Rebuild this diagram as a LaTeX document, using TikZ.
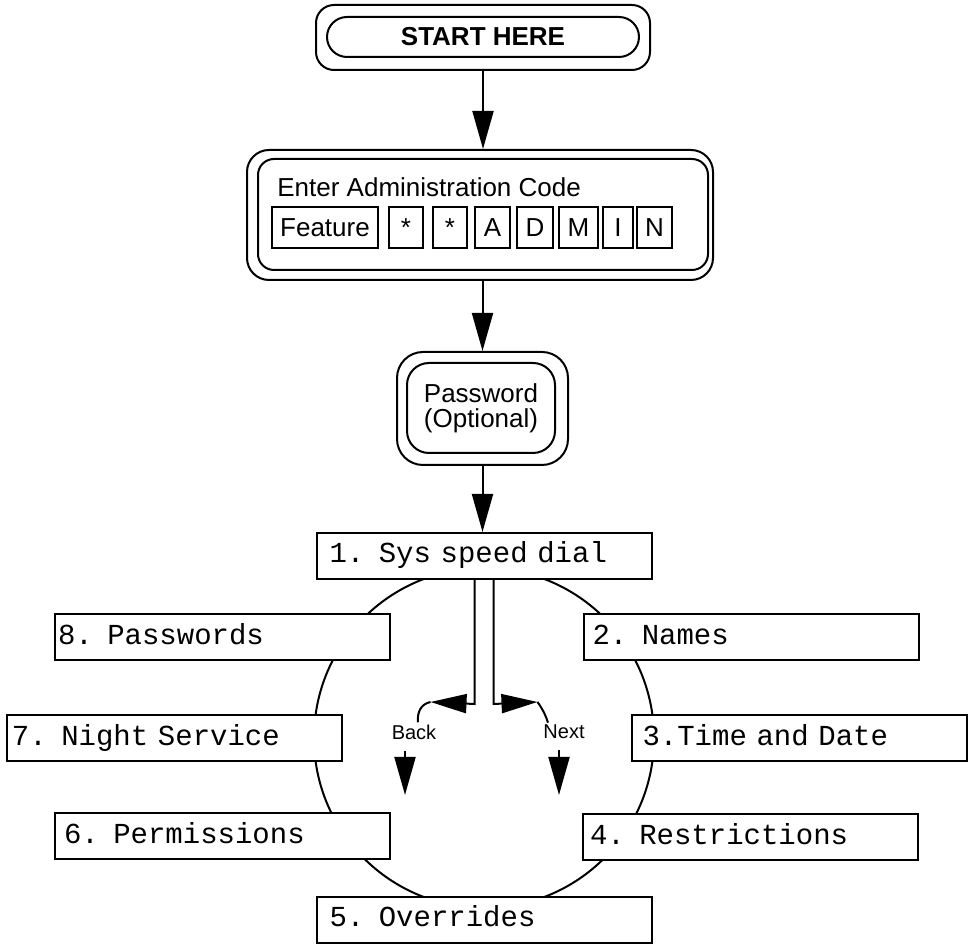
\documentclass[tikz,border=0pt]{standalone}
\usepackage{fontspec}
\setmainfont{Liberation Sans}
\newfontfamily\dotfont{Liberation Mono}
\usetikzlibrary{arrows.meta,shapes.misc}

\tikzset{
  outerbox/.style={draw, line width=1pt, inner sep=0pt},
  innerbox/.style={draw, line width=1pt, inner sep=0pt},
  keybox/.style={draw, line width=1pt, minimum height=20.5pt, inner sep=0pt, font=\fontsize{13}{15}\selectfont},
  menubox/.style={draw, line width=1pt, fill=white, minimum height=23pt, text width=164.5pt, inner sep=1.5pt,
    align=left, text height=10pt, text depth=3pt,
    font={\dotfont\fontsize{14.5}{16}\selectfont\spaceskip=0.6em\relax\xspaceskip=0.6em\relax}},
  flow/.style={line width=1pt, -{Triangle[length=19pt,width=10.5pt]}},
  turn/.style={line width=1pt, -{Triangle[length=18pt,width=9.5pt]}},
  hint/.style={inner sep=1pt, font=\fontsize{10}{12}\selectfont}
}

\begin{document}
\begin{tikzpicture}[x=0.5pt,y=-0.5pt]
    \useasboundingbox (0,0) rectangle (970,945);

    % start
    \node[outerbox, rounded corners=9pt, minimum width=167pt, minimum height=32.5pt] (startframe) at (483,37.5) {};
    \node[draw, line width=1pt, rounded rectangle, minimum width=156pt, minimum height=20pt, inner sep=0pt,
      font=\bfseries\fontsize{13}{15}\selectfont] (start) at (483,37) {START HERE};

    % admin code
    \node[outerbox, rounded corners=11pt, minimum width=233pt, minimum height=65pt] (adminframe) at (480,215) {};
    \node[innerbox, rounded corners=8pt, minimum width=225pt, minimum height=55.5pt] (admin) at (483,214.5) {};
    \node[anchor=base west, inner sep=0pt, font=\fontsize{13}{15}\selectfont] (admintitle) at (277,197) {Enter Administration Code};
    \foreach \k/\cx/\w [count=\i] in {Feature/325/53pt, */406/17pt, */450/17pt, A/492.5/17.5pt,
                                      D/535/18pt, M/578.5/19.5pt, I/618/15pt, N/654.5/17.5pt}
      \node[keybox, minimum width=\w] (key\i) at (\cx,227.5) {\k};

    % password
    \node[outerbox, rounded corners=13pt, minimum width=85.5pt, minimum height=56.5pt] (pwdframe) at (482.5,408.5) {};
    \node[innerbox, rounded corners=11pt, minimum width=74pt, minimum height=45pt, align=center,
      font=\fontsize{13}{12.5}\selectfont] (pwd) at (481,408) {Password\\(Optional)};

    % ring behind the menu
    \draw[line width=1pt] (484,738) circle [radius=85pt];

    \node[menubox] (m1) at (484,556) {\hspace*{5pt}1. Sys speed dial};
    \node[menubox] (m2) at (751,637.5) {\hspace*{3pt}2. Names};
    \node[menubox] (m3) at (799,738.5) {\hspace*{4pt}3.Time and Date};
    \node[menubox] (m4) at (750.5,837.5) {\hspace*{2pt}4. Restrictions};
    \node[menubox] (m5) at (484,920) {\hspace*{5pt}5. Overrides};
    \node[menubox] (m6) at (222.5,836.5) {\hspace*{3pt}6. Permissions};
    \node[menubox] (m7) at (174.5,738.5) {\hspace*{1pt}7. Night Service};
    \node[menubox] (m8) at (222.5,637.5) {8. Passwords};

    \draw[flow] (startframe.south) -- (startframe.south |- adminframe.north);
    \draw[flow] (pwdframe.north |- adminframe.south) -- (pwdframe.north);
    \draw[flow] (pwdframe.south) -- (pwdframe.south |- m1.north);

    % back / next
    \node[hint] (back) at (414,732) {Back};
    \node[hint] (next) at (564,732) {Next};

    \draw[turn] ([xshift=-4.75pt]m1.south) -- ++(0,124) -- ++(-44,-2) coordinate (backtip);
    \draw[line width=1pt] (backtip) .. controls (421,704) and (417,712) .. ([xshift=2pt]back.north);
    \draw[turn] ([xshift=4.75pt]m1.south) -- ++(0,124) -- ++(44,-2) coordinate (nexttip);
    \draw[line width=1pt] (nexttip) .. controls (538,703) and (544,710) .. ([xshift=-8pt]next.north);

    \coordinate (backend) at (405,795);
    \coordinate (nextend) at (559,795);
    \draw[flow, shorten <=4.5pt] (back.south -| backend) -- (backend);
    \draw[flow, shorten <=4.5pt] (next.south -| nextend) -- (nextend);

\end{tikzpicture}
\end{document}
